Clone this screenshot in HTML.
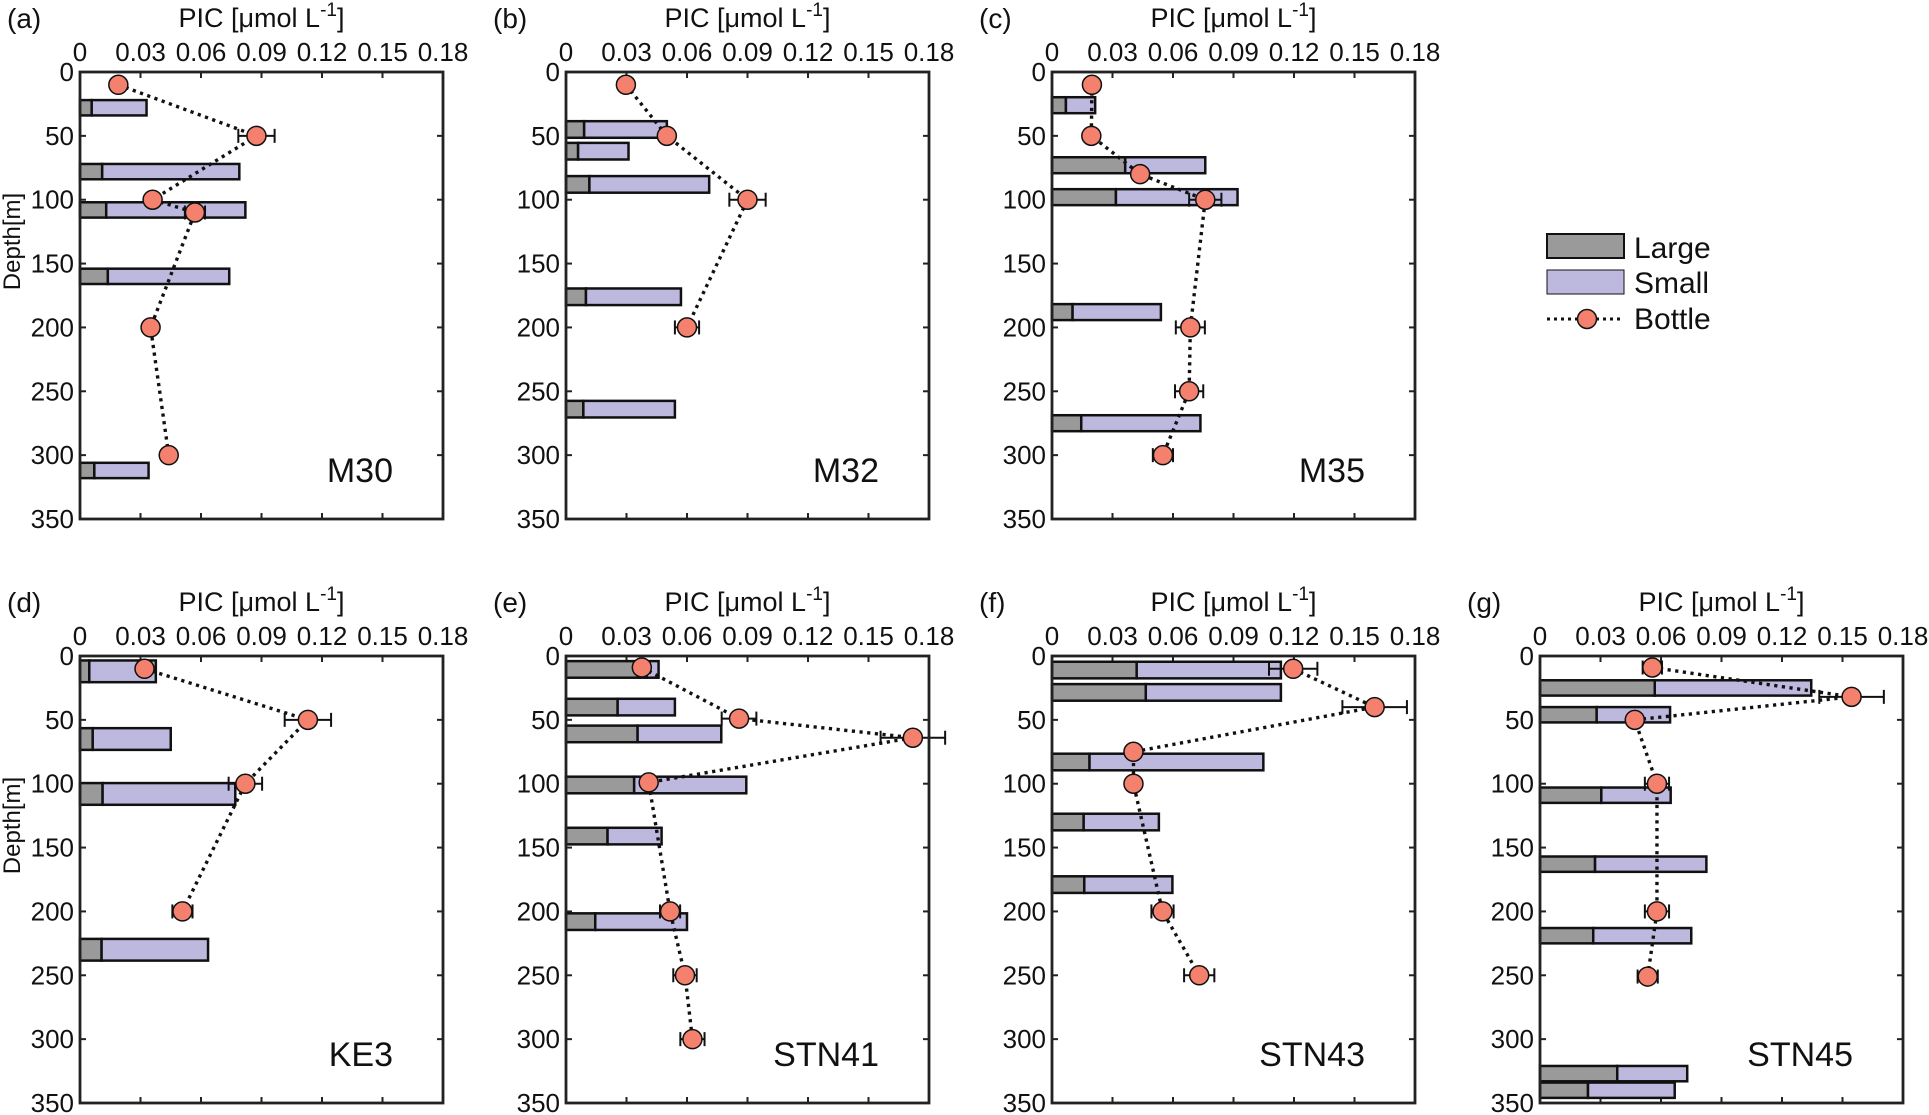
<!DOCTYPE html>
<html><head><meta charset="utf-8"><style>
html,body{margin:0;padding:0;background:#fff;}
svg{display:block;font-family:"Liberation Sans",Arial,sans-serif;}
</style></head><body>
<svg id="fig" width="1929" height="1115" viewBox="0 0 1929 1115" xmlns="http://www.w3.org/2000/svg"></svg>
<script>
const panelLetters = ["(a)","(b)","(c)","(d)","(e)","(f)","(g)"];
const stationNames = ["M30","M32","M35","KE3","STN41","STN43","STN45"];
const xTicks = [0,0.03,0.06,0.09,0.12,0.15,0.18];
const xTickLabels = ["0","0.03","0.06","0.09","0.12","0.15","0.18"];
const yTicks = [0,50,100,150,200,250,300,350];

const bottleDepth = [
 [10,50,100,110,200,300],
 [10,50,100,200],
 [10,50,80,100,200,250,300],
 [10,50,100,200],
 [9,49,64,99,200,250,300],
 [10,40,75,100,200,250],
 [9,32,50,100,200,251]
];
const bottleValue = [
 [0.019,0.0875,0.036,0.057,0.035,0.044],
 [0.0297,0.050,0.090,0.060],
 [0.0198,0.0195,0.0437,0.076,0.0686,0.068,0.055],
 [0.032,0.113,0.082,0.0508],
 [0.0376,0.0858,0.172,0.041,0.0516,0.059,0.0627],
 [0.1196,0.160,0.0404,0.0404,0.0548,0.073],
 [0.0557,0.1545,0.047,0.058,0.058,0.0534]
];
const bottleError = [
 [0,0.009,0,0.005,0,0],
 [0,0.003,0.009,0.006],
 [0,0,0,0.008,0.0072,0.007,0.005],
 [0,0.0115,0.0083,0.005],
 [0,0.0086,0.016,0,0.005,0.0058,0.006],
 [0.012,0.016,0,0,0.0055,0.0075],
 [0.0048,0.016,0,0.006,0.006,0.005]
];
const barDepth = [
 [28,78,108,160,312],
 [45,62,88,176,264],
 [26,73,98,188,275],
 [12,65,108,230],
 [10.5,40,61,101,141,208],
 [11,28.5,83,130,179],
 [25,46,109,163,219,327,340]
];
const barLarge = [
 [0.0058,0.011,0.013,0.0138,0.0071],
 [0.009,0.006,0.0116,0.0099,0.0086],
 [0.0069,0.0363,0.0317,0.0102,0.0145],
 [0.0046,0.0063,0.0112,0.0107],
 [0.040,0.0256,0.0355,0.0338,0.0206,0.0145],
 [0.042,0.0465,0.0186,0.0157,0.016],
 [0.0569,0.0281,0.0304,0.0273,0.0264,0.0383,0.0238]
];
const barTotal = [
 [0.033,0.079,0.082,0.074,0.034],
 [0.050,0.031,0.071,0.057,0.054],
 [0.0214,0.076,0.092,0.054,0.0736],
 [0.0376,0.045,0.077,0.0635],
 [0.0459,0.054,0.077,0.0894,0.0474,0.060],
 [0.1135,0.1135,0.1048,0.053,0.0597],
 [0.1345,0.0645,0.0648,0.0825,0.075,0.073,0.0668]
];
const barThickness = [12,13,12.5,17,13,13,12];

const NS="http://www.w3.org/2000/svg";
const svg=document.getElementById('fig');
const panelLeft=[80,566,1052,80,566,1052,1540];
const panelTop=[72,72,72,656,656,656,656];
const PW=363, PH=447, XMAX=0.18, YMAX=350;
const GRAY="#9a9a9a", LAV="#bdb8de", CORAL="#f4806e";

function mk(tag,attrs,parent){const e=document.createElementNS(NS,tag);for(const k in attrs)e.setAttribute(k,attrs[k]);(parent||svg).appendChild(e);return e;}

for(let p=0;p<7;p++){
  const L=panelLeft[p],T=panelTop[p];
  const xs=v=>L+v/XMAX*PW;
  const ys=d=>T+d/YMAX*PH;
  const g=mk('g',{});
  
  

  const lt=mk('text',{x:L-73,y:T-44,'font-size':28,fill:'#111'},g);lt.textContent=panelLetters[p];
  
  
  const xt=mk('text',{x:L+PW/2,y:T-45,'font-size':27,'text-anchor':'middle',fill:'#111'},g);
  
  
  xt.appendChild(document.createTextNode('PIC [μmol L'));
  const sup=mk('tspan',{dy:-11,'font-size':19},xt);sup.textContent='-1';
  const cl=mk('tspan',{dy:11},xt);cl.textContent=']';
  xTicks.forEach((v,i)=>{
    const x=xs(v);
    const t=mk('text',{x:x,y:T-11,'font-size':26,'text-anchor':'middle',fill:'#111'},g);t.textContent=xTickLabels[i];
    
    
    if(i>0&&i<xTicks.length-1){
      mk('line',{x1:x,y1:T,x2:x,y2:T+6,stroke:'#222','stroke-width':2},g);
      mk('line',{x1:x,y1:T+PH,x2:x,y2:T+PH-6,stroke:'#222','stroke-width':2},g);
    }
  });
  yTicks.forEach(d=>{
    const y=ys(d);
    const t=mk('text',{x:L-6,y:y+9,'font-size':26,'text-anchor':'end',fill:'#111'},g);t.textContent=String(d);
    
    
    if(d>0&&d<YMAX){
      mk('line',{x1:L,y1:y,x2:L+6,y2:y,stroke:'#222','stroke-width':2},g);
      mk('line',{x1:L+PW,y1:y,x2:L+PW-6,y2:y,stroke:'#222','stroke-width':2},g);
    }
  });
  if(p===0||p===3){
    const yt=mk('text',{x:0,y:0,'font-size':24,'text-anchor':'middle',fill:'#111',transform:`translate(20,${T+PH/2-54}) rotate(-90)`},g);
    yt.textContent='Depth[m]';
    
    
  }
  const th=barThickness[p];
  barDepth[p].forEach((d,i)=>{
    const y=ys(d)-th*PH/YMAX/2, h=th*PH/YMAX;
    const r1=mk('rect',{x:xs(0),y:y,width:xs(barLarge[p][i])-xs(0),height:h,fill:GRAY,stroke:'#111','stroke-width':2.5},g);
    
    
    const r2=mk('rect',{x:xs(barLarge[p][i]),y:y,width:xs(barTotal[p][i])-xs(barLarge[p][i]),height:h,fill:LAV,stroke:'#111','stroke-width':2.5},g);
    
    
  });
  const pts=bottleDepth[p].map((d,i)=>xs(bottleValue[p][i])+','+ys(d)).join(' ');
  const pl=mk('polyline',{points:pts,fill:'none',stroke:'#111','stroke-width':3.4,'stroke-dasharray':'3.2 4.5'},g);
  
  
  bottleDepth[p].forEach((d,i)=>{
    const e=bottleError[p][i]; if(!e) return;
    const y=ys(d), x1=xs(bottleValue[p][i]-e), x2=xs(bottleValue[p][i]+e);
    const eg=mk('g',{stroke:'#111','stroke-width':2},g);
    
    
    mk('line',{x1:x1,y1:y,x2:x2,y2:y},eg);
    mk('line',{x1:x1,y1:y-7,x2:x1,y2:y+7},eg);
    mk('line',{x1:x2,y1:y-7,x2:x2,y2:y+7},eg);
  });
  bottleDepth[p].forEach((d,i)=>{
    const c=mk('circle',{cx:xs(bottleValue[p][i]),cy:ys(d),r:9.5,fill:CORAL,stroke:'#111','stroke-width':1.5},g);
    
    
  });
  const fr=mk('rect',{x:L,y:T,width:PW,height:PH,fill:'none',stroke:'#222','stroke-width':2.8},g);
  
  
  const st=mk('text',{x:L+PW-50,y:T+PH-37,'font-size':34,'text-anchor':'end',fill:'#111'},g);
  st.textContent=stationNames[p];
  
  
}

const lg=mk('g',{});


const le1=mk('rect',{x:1547,y:234,width:77,height:24,fill:GRAY,stroke:'#111','stroke-width':2},lg);


const lt1=mk('text',{x:1634,y:258,'font-size':30,fill:'#111'},lg);lt1.textContent='Large';


const le2=mk('rect',{x:1547,y:270,width:77,height:24,fill:LAV,stroke:'#111','stroke-width':1},lg);


const lt2=mk('text',{x:1634,y:293,'font-size':30,fill:'#111'},lg);lt2.textContent='Small';


mk('line',{x1:1547,y1:319,x2:1624,y2:319,stroke:'#111','stroke-width':3,'stroke-dasharray':'3 4'},lg);
const lc=mk('circle',{cx:1587,cy:319,r:9.5,fill:CORAL,stroke:'#111','stroke-width':1.5},lg);


const lt3=mk('text',{x:1634,y:329,'font-size':30,fill:'#111'},lg);lt3.textContent='Bottle';


</script>
</body></html>
